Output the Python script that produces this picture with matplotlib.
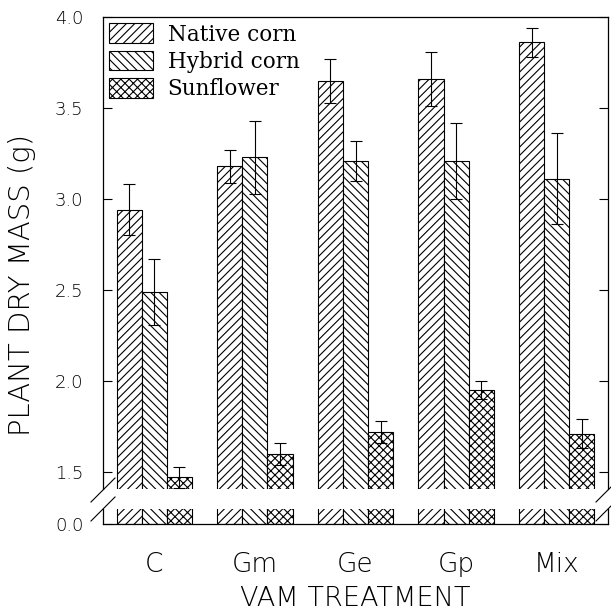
import matplotlib
matplotlib.use("Agg")
from matplotlib import pyplot as plt
from matplotlib.lines import Line2D
import numpy as np

treatments = ["C", "Gm", "Ge", "Gp", "Mix"]
native = [2.94, 3.18, 3.65, 3.66, 3.86]
native_err = [0.14, 0.09, 0.12, 0.15, 0.08]
hybrid = [2.49, 3.23, 3.21, 3.21, 3.11]
hybrid_err = [0.18, 0.20, 0.11, 0.21, 0.25]
sunflower = [1.47, 1.60, 1.72, 1.95, 1.71]
sunflower_err = [0.06, 0.06, 0.06, 0.05, 0.08]
series_names = ["Native corn", "Hybrid corn", "Sunflower"]
upper_ticks = [1.5, 2.0, 2.5, 3.0, 3.5, 4.0]
lower_ticks = [0.0]

plt.rcParams['hatch.linewidth'] = 0.8
sans = dict(family='DejaVu Sans', weight='light')

W, H = 611, 610
fig = plt.figure(figsize=(W / 100, H / 100), dpi=100)

# pixel layout of the broken axis
left, right = 103, 608
top, up_bottom = 17, 489
low_top, low_bottom = 509, 524

ax1 = fig.add_axes([left / W, 1 - up_bottom / H, (right - left) / W, (up_bottom - top) / H])
ax2 = fig.add_axes([left / W, 1 - low_bottom / H, (right - left) / W, (low_bottom - low_top) / H])

x = np.arange(len(treatments))
w = 0.25
hatches = ['////', '\\\\\\\\', 'xxxx']
data = [(native, native_err), (hybrid, hybrid_err), (sunflower, sunflower_err)]

for ax in (ax1, ax2):
    for i, (vals, errs) in enumerate(data):
        kw = dict(width=w, color='white', edgecolor='black', linewidth=0.8,
                  hatch=hatches[i])
        if ax is ax1:
            ax.bar(x + (i - 1) * w, vals, label=series_names[i],
                   yerr=errs, error_kw=dict(ecolor='black', elinewidth=0.8,
                                            capsize=4, capthick=0.8), **kw)
        else:
            ax.bar(x + (i - 1) * w, vals, **kw)
    ax.set_xlim(-0.51, 4.51)
    ax.tick_params(axis='y', direction='in', length=6.5, width=0.8,
                   left=True, right=True, pad=14, labelsize=13)
    for s in ax.spines.values():
        s.set_linewidth(0.9)

# 182 px per unit, same scale in both parts
ax1.set_ylim(4.0 - (up_bottom - top) / 182.0, 4.0)
ax2.set_ylim(0, (low_bottom - low_top) / 182.0)
ax1.set_yticks(upper_ticks)
ax1.set_yticklabels([f"{t:.1f}" for t in upper_ticks], fontsize=13, **sans)
ax2.set_yticks(lower_ticks)
ax2.set_yticklabels([f"{t:.1f}" for t in lower_ticks], fontsize=13, **sans)

ax1.spines['bottom'].set_visible(False)
ax2.spines['top'].set_visible(False)
ax1.set_xticks([])
ax2.set_xticks(x)
ax2.set_xticklabels(treatments, fontsize=19, **sans)
ax2.tick_params(axis='x', length=0, pad=20)

# break marks
d = 12
for px in (left, right):
    for py in ((up_bottom + low_top) / 2 - 9, (up_bottom + low_top) / 2 + 10):
        fig.add_artist(Line2D([(px - d) / W, (px + d) / W],
                              [1 - (py + d) / H, 1 - (py - d) / H],
                              transform=fig.transFigure, color='black',
                              linewidth=0.8, clip_on=False))

ax1.legend(loc='upper left', frameon=False,
           prop=dict(family='DejaVu Serif', size=15.5),
           handlelength=2.0, handleheight=1.02, labelspacing=0.24,
           borderaxespad=0.3, borderpad=0, handletextpad=0.7)

fig.text(22 / W, 1 - 285 / H, "PLANT DRY MASS (g)", rotation=90,
         ha='center', va='center', fontsize=21, **sans)
fig.text(355 / W, 1 - 599 / H, "VAM TREATMENT", ha='center', va='center',
         fontsize=19.5, **sans)

fig.savefig("out.png", dpi=100)
